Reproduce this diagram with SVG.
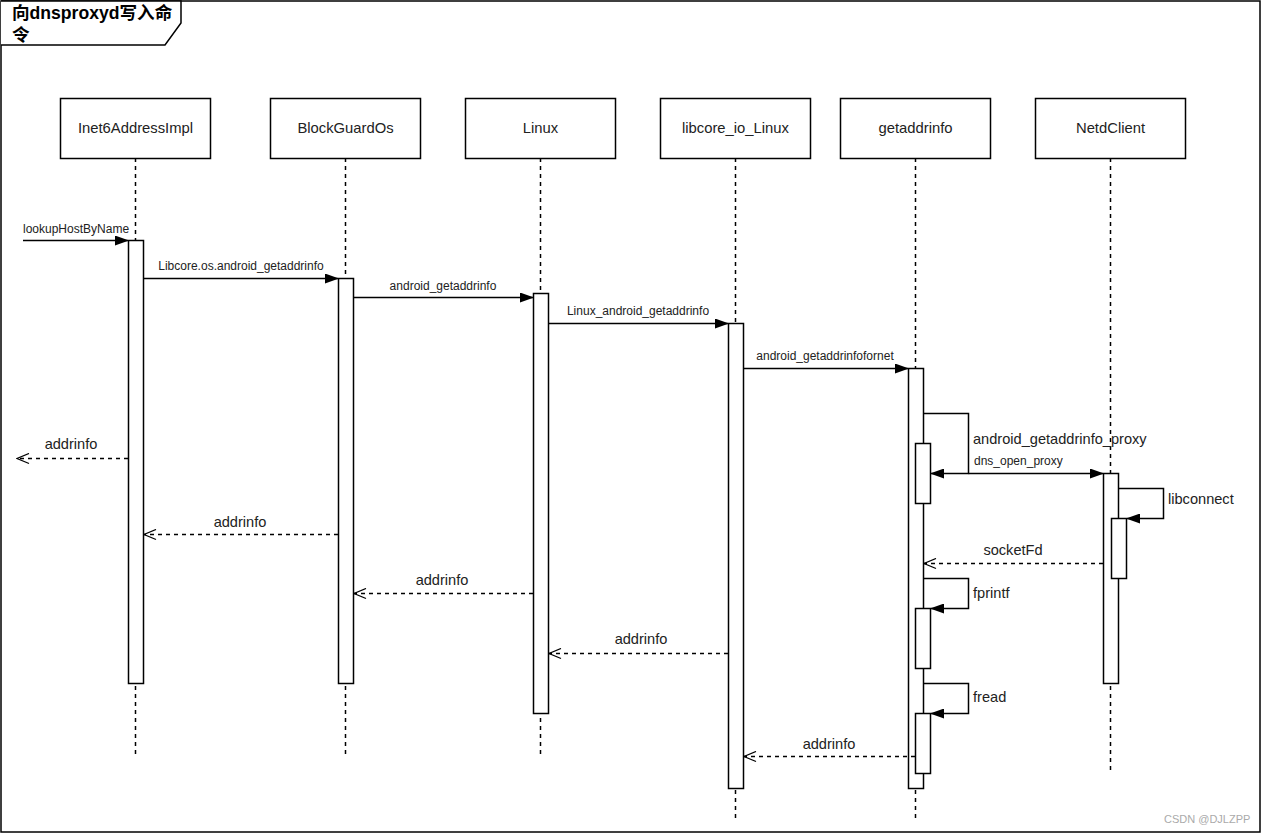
<svg xmlns="http://www.w3.org/2000/svg" width="1262" height="834" viewBox="0 0 1262 834">
<defs>
<marker id="fill" viewBox="0 0 14 10" refX="13" refY="5" markerWidth="14" markerHeight="10" markerUnits="userSpaceOnUse" orient="auto">
<path d="M0,0 L14,5 L0,10 Z" fill="#000"/>
</marker>
<marker id="open" viewBox="0 0 14 12" refX="13" refY="6" markerWidth="14" markerHeight="12" markerUnits="userSpaceOnUse" orient="auto">
<path d="M1,1 L13,6 L1,11" fill="none" stroke="#000" stroke-width="1.3"/>
</marker>
</defs>
<style>
text{font-family:"Liberation Sans",Arial,sans-serif;fill:#222}
.box{fill:#fff;stroke:#000;stroke-width:1.5}
.act{fill:#fff;stroke:#000;stroke-width:1.5}
.life{stroke:#000;stroke-width:1.5;stroke-dasharray:4 4;fill:none}
.msg{stroke:#000;stroke-width:1.5;fill:none;marker-end:url(#fill)}
.ret{stroke:#000;stroke-width:1.4;fill:none;stroke-dasharray:4 4;marker-end:url(#open)}
.self{stroke:#000;stroke-width:1.5;fill:none;marker-end:url(#fill)}
.pl{font-size:14.8px;text-anchor:middle}
.sm{font-size:12px}
.md{font-size:14.6px}
.c{text-anchor:middle}
</style>
<rect x="0" y="0" width="1262" height="834" fill="#fff"/>
<g id="frame">
<rect x="1" y="1" width="1259" height="831" fill="none" stroke="#000" stroke-width="1.5"/>
<path d="M1,1 L181,1 L181,23 L165,45 L1,45" fill="#fff" stroke="#000" stroke-width="1.5"/>
<text x="12" y="19" style="font-family:'Liberation Sans','Noto Sans CJK SC',sans-serif;font-size:17.6px;font-weight:bold;fill:#000">向dnsproxyd写入命</text>
<text x="12" y="41" style="font-family:'Liberation Sans','Noto Sans CJK SC',sans-serif;font-size:17.6px;font-weight:bold;fill:#000">令</text>
</g>
<g id="lifelines">
<line class="life" x1="135.5" y1="158" x2="135.5" y2="757"/>
<line class="life" x1="345.5" y1="158" x2="345.5" y2="757"/>
<line class="life" x1="540.5" y1="158" x2="540.5" y2="757"/>
<line class="life" x1="735.5" y1="158" x2="735.5" y2="818"/>
<line class="life" x1="915.5" y1="158" x2="915.5" y2="818"/>
<line class="life" x1="1110.5" y1="158" x2="1110.5" y2="773"/>
</g>
<g id="p-inet6"><rect class="box" x="60.5" y="98.5" width="150" height="60"/><text class="pl" x="135.5" y="133">Inet6AddressImpl</text></g>
<g id="p-blockguard"><rect class="box" x="270.5" y="98.5" width="150" height="60"/><text class="pl" x="345.5" y="133">BlockGuardOs</text></g>
<g id="p-linux"><rect class="box" x="465.5" y="98.5" width="150" height="60"/><text class="pl" x="540.5" y="133">Linux</text></g>
<g id="p-libcore"><rect class="box" x="660.5" y="98.5" width="150" height="60"/><text class="pl" x="735.5" y="133">libcore_io_Linux</text></g>
<g id="p-getaddrinfo"><rect class="box" x="840.5" y="98.5" width="150" height="60"/><text class="pl" x="915.5" y="133">getaddrinfo</text></g>
<g id="p-netd"><rect class="box" x="1035.5" y="98.5" width="150" height="60"/><text class="pl" x="1110.5" y="133">NetdClient</text></g>
<g id="activations">
<rect class="act" x="128.5" y="240.5" width="15" height="443"/>
<rect class="act" x="338.5" y="278.5" width="15" height="405"/>
<rect class="act" x="533.5" y="293.5" width="15" height="420"/>
<rect class="act" x="728.5" y="323.5" width="15" height="465"/>
<rect class="act" x="908.5" y="368.5" width="15" height="420"/>
<rect class="act" x="915.5" y="443.5" width="15" height="60"/>
<rect class="act" x="915.5" y="608.5" width="15" height="60"/>
<rect class="act" x="915.5" y="713.5" width="15" height="60"/>
<rect class="act" x="1103.5" y="473.5" width="15" height="210"/>
<rect class="act" x="1111.5" y="518.5" width="15" height="60"/>
</g>
<g id="connectors">
<line class="msg" x1="23" y1="240.5" x2="128" y2="240.5"/>
<line class="msg" x1="143.5" y1="278.5" x2="338" y2="278.5"/>
<line class="msg" x1="353.5" y1="297.5" x2="533" y2="297.5"/>
<line class="msg" x1="548.5" y1="323.5" x2="728" y2="323.5"/>
<line class="msg" x1="743.5" y1="368.5" x2="908" y2="368.5"/>
<path class="self" d="M923.5,413.5 L968.5,413.5 L968.5,473.5 L931,473.5"/>
<line class="msg" x1="968.5" y1="473.5" x2="1103" y2="473.5"/>
<path class="self" d="M1118.5,488.5 L1163.5,488.5 L1163.5,518.5 L1127,518.5"/>
<line class="ret" x1="1103" y1="563.5" x2="924" y2="563.5"/>
<path class="self" d="M923.5,578.5 L968.5,578.5 L968.5,608.5 L931,608.5"/>
<path class="self" d="M923.5,683.5 L968.5,683.5 L968.5,713.5 L931,713.5"/>
<line class="ret" x1="915" y1="756.5" x2="744" y2="756.5"/>
<line class="ret" x1="728" y1="653.5" x2="549" y2="653.5"/>
<line class="ret" x1="533" y1="593.5" x2="354" y2="593.5"/>
<line class="ret" x1="338" y1="534.5" x2="144" y2="534.5"/>
<line class="ret" x1="128" y1="458.5" x2="17" y2="458.5"/>
</g>
<g id="labels">
<text class="sm" x="23" y="233">lookupHostByName</text>
<text class="sm c" x="241" y="270">Libcore.os.android_getaddrinfo</text>
<text class="sm c" x="443" y="290">android_getaddrinfo</text>
<text class="sm c" x="638" y="315">Linux_android_getaddrinfo</text>
<text class="sm c" x="825" y="360">android_getaddrinfofornet</text>
<text class="md" x="973" y="444">android_getaddrinfo_proxy</text>
<text class="sm" x="974" y="465">dns_open_proxy</text>
<text class="md" x="1168" y="504">libconnect</text>
<text class="md c" x="1013" y="555">socketFd</text>
<text class="md" x="973" y="598">fprintf</text>
<text class="md" x="973" y="702">fread</text>
<text class="md c" x="829" y="749">addrinfo</text>
<text class="md c" x="641" y="644">addrinfo</text>
<text class="md c" x="442" y="585">addrinfo</text>
<text class="md c" x="240" y="527">addrinfo</text>
<text class="md c" x="71" y="449">addrinfo</text>
<text x="1164" y="823" style="font-size:11px;fill:#aaa">CSDN @DJLZPP</text>
</g>
</svg>
